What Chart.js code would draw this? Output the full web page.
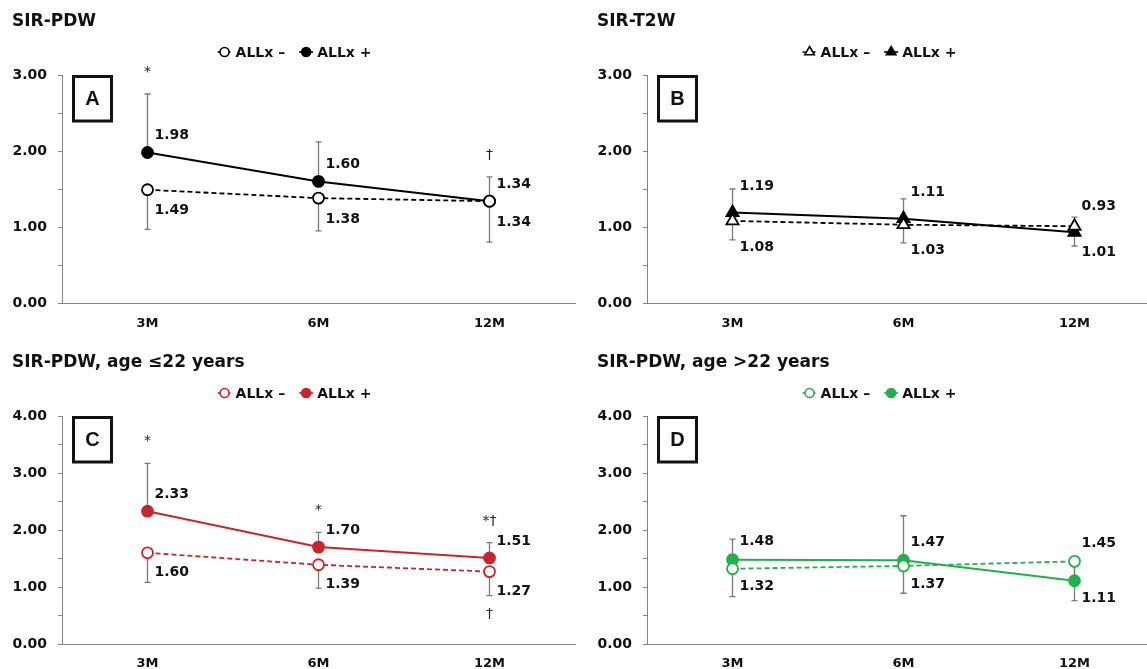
<!DOCTYPE html>
<html>
<head>
<meta charset="utf-8">
<script src="https://cdn.jsdelivr.net/npm/chart.js@4.4.1/dist/chart.umd.min.js"></script>
<style>
  body { margin: 0; background: #fff; width: 1147px; height: 669px; overflow: hidden; position: relative; }
  canvas { position: absolute; }
</style>
</head>
<body>
<canvas id="chartA" width="600" height="335" style="left:0;top:0"></canvas>
<canvas id="chartB" width="600" height="335" style="left:575px;top:0"></canvas>
<canvas id="chartC" width="600" height="334" style="left:0;top:335px"></canvas>
<canvas id="chartD" width="600" height="334" style="left:575px;top:335px"></canvas>
<script>
// 1. Dados
const meses = ['3M', '6M', '12M'];
const rotulos = ['ALLx –', 'ALLx +'];

// A: SIR-PDW
const pdwSem = [1.49, 1.38, 1.34];
const pdwCom = [1.98, 1.60, 1.34];
const pdwSemDP = [0.52, 0.43, 0.54];
const pdwComDP = [0.77, 0.52, 0.32];
const pdwMarcasCima = ['*', '', '†'];
const pdwMarcasBaixo = ['', '', ''];

// B: SIR-T2W
const t2wSem = [1.08, 1.03, 1.01];
const t2wCom = [1.19, 1.11, 0.93];
const t2wSemDP = [0.25, 0.24, 0.26];
const t2wComDP = [0.31, 0.26, 0.20];
const t2wMarcasCima = ['', '', ''];
const t2wMarcasBaixo = ['', '', ''];

// C: SIR-PDW, idade <= 22
const jovemSem = [1.60, 1.39, 1.27];
const jovemCom = [2.33, 1.70, 1.51];
const jovemSemDP = [0.52, 0.41, 0.42];
const jovemComDP = [0.84, 0.26, 0.27];
const jovemMarcasCima = ['*', '*', '*†'];
const jovemMarcasBaixo = ['', '', '†'];

// D: SIR-PDW, idade > 22
const velhoSem = [1.32, 1.37, 1.45];
const velhoCom = [1.48, 1.47, 1.11];
const velhoSemDP = [0.49, 0.48, 0.69];
const velhoComDP = [0.36, 0.78, 0.30];
const velhoMarcasCima = ['', '', ''];
const velhoMarcasBaixo = ['', '', ''];

const ticksA = [0, 3];
const ticksC = [0, 4];

const FONTE = '"DejaVu Sans", Verdana, sans-serif';
const CINZA = '#858585';
const TEXTO = '#111';

// 2. Desenha um marcador (círculo ou triângulo)
function desenharMarcador(ctx, estilo, x, y, r, cheio, cor, lw) {
  ctx.beginPath();
  if (estilo === 'triangle') {
    for (let k = 0; k < 3; k++) {
      const a = k * 2 * Math.PI / 3;
      const px = x + Math.sin(a) * r, py = y - Math.cos(a) * r;
      if (k === 0) ctx.moveTo(px, py); else ctx.lineTo(px, py);
    }
    ctx.closePath();
  } else {
    ctx.arc(x, y, r, 0, Math.PI * 2);
  }
  ctx.fillStyle = cheio ? cor : '#fff';
  ctx.fill();
  ctx.lineWidth = lw;
  ctx.strokeStyle = cor;
  ctx.stroke();
}

// 3. Plugin: barras de erro, rótulos, marcas, título, legenda e letra
const decoracao = {
  id: 'decoracao',
  beforeDatasetsDraw(chart, args, o) {
    const { ctx, scales: { x, y } } = chart;
    const sem = chart.data.datasets[0].data;
    const com = chart.data.datasets[1].data;
    ctx.save();
    ctx.strokeStyle = '#7a7a7a';
    ctx.lineWidth = 1.3;
    for (let i = 0; i < sem.length; i++) {
      const px = x.getPixelForValue(i);
      const barras = [[com[i], com[i] + o.comDP[i]], [sem[i], sem[i] - o.semDP[i]]];
      barras.forEach(([v0, v1]) => {
        const y0 = y.getPixelForValue(v0), y1 = y.getPixelForValue(v1);
        ctx.beginPath();
        ctx.moveTo(px, y0); ctx.lineTo(px, y1);
        ctx.moveTo(px - 3, y1); ctx.lineTo(px + 3, y1);
        ctx.stroke();
      });
    }
    ctx.restore();
  },
  afterDatasetsDraw(chart, args, o) {
    const { ctx, scales: { x, y } } = chart;
    const sem = chart.data.datasets[0].data;
    const com = chart.data.datasets[1].data;
    ctx.save();
    ctx.fillStyle = TEXTO;
    ctx.font = 'bold 14px ' + FONTE;
    ctx.textAlign = 'left';
    ctx.textBaseline = 'middle';
    for (let i = 0; i < sem.length; i++) {
      const px = x.getPixelForValue(i);
      // em D o rótulo de cima é sempre o do ponto mais alto
      let cima = com[i], baixo = sem[i];
      if (o.rotuloPelaAltura && sem[i] > com[i]) { cima = sem[i]; baixo = com[i]; }
      ctx.fillText(cima.toFixed(2), px + 7, y.getPixelForValue(cima) - o.folgaCima);
      ctx.fillText(baixo.toFixed(2), px + 7, y.getPixelForValue(baixo) + o.folgaBaixo);
    }
    ctx.font = '14px ' + FONTE;
    ctx.textAlign = 'center';
    ctx.textBaseline = 'alphabetic';
    ctx.fillStyle = '#222';
    for (let i = 0; i < sem.length; i++) {
      const px = x.getPixelForValue(i);
      const topo = Math.max(com[i] + o.comDP[i], sem[i]);
      const fundo = Math.min(sem[i] - o.semDP[i], com[i]);
      if (o.marcasCima[i]) ctx.fillText(o.marcasCima[i], px, y.getPixelForValue(topo) - 18);
      if (o.marcasBaixo[i]) ctx.fillText(o.marcasBaixo[i], px, y.getPixelForValue(fundo) + 22);
    }
    ctx.restore();
  },
  afterDraw(chart, args, o) {
    const { ctx, chartArea: area } = chart;
    ctx.save();
    // título
    ctx.fillStyle = TEXTO;
    ctx.font = 'bold 17px ' + FONTE;
    ctx.textAlign = 'left';
    ctx.textBaseline = 'middle';
    ctx.fillText(o.titulo, area.left - 50, area.top - 53);

    // legenda
    ctx.font = 'bold 14px ' + FONTE;
    const itens = chart.data.datasets.map((ds, k) => ({
      texto: ds.label, tracejado: k === 0, cheio: k === 1, largura: 18 + ctx.measureText(ds.label).width
    }));
    const total = itens.reduce((s, it) => s + it.largura, 0) + 14;
    let ix = (area.left + area.right) / 2 - 24 - total / 2;
    const ly = area.top - 23;
    itens.forEach(it => {
      ctx.strokeStyle = o.cor;
      ctx.lineWidth = 1.6;
      ctx.setLineDash(it.tracejado ? [3, 2] : []);
      ctx.beginPath(); ctx.moveTo(ix, ly); ctx.lineTo(ix + 14, ly); ctx.stroke();
      ctx.setLineDash([]);
      desenharMarcador(ctx, o.estilo, ix + 7, ly, o.estilo === 'triangle' ? 5.5 : 4.5, it.cheio, o.cor, 1.6);
      ctx.fillStyle = TEXTO;
      ctx.textAlign = 'left';
      ctx.fillText(it.texto, ix + 18, ly + 1);
      ix += it.largura + 14;
    });

    // quadro da letra
    ctx.strokeStyle = '#111';
    ctx.lineWidth = 3;
    ctx.strokeRect(area.left + 11.5, area.top + 1.5, 38, 44.5);
    ctx.fillStyle = '#111';
    ctx.font = 'bold 20px "Liberation Sans", Arial, sans-serif';
    ctx.textAlign = 'center';
    ctx.fillText(o.letra, area.left + 30.5, area.top + 24);
    ctx.restore();
  }
};

// 4. Monta cada painel
function criarPainel(id, cfg) {
  const canvas = document.getElementById(id);
  const fonteEixo = (size) => ({ family: FONTE, size: size, weight: 'bold' });
  return new Chart(canvas, {
    type: 'line',
    data: {
      labels: meses,
      datasets: [
        {
          label: rotulos[0], data: cfg.sem, borderColor: cfg.cor, borderWidth: 1.8, borderDash: [5, 3],
          pointStyle: cfg.estilo, pointRadius: cfg.raio, pointBorderWidth: 1.8,
          pointBackgroundColor: '#fff', pointBorderColor: cfg.cor, tension: 0
        },
        {
          label: rotulos[1], data: cfg.com, borderColor: cfg.cor, borderWidth: 2,
          pointStyle: cfg.estilo, pointRadius: cfg.raio, pointBorderWidth: 1.8,
          pointBackgroundColor: cfg.cor, pointBorderColor: cfg.cor, tension: 0
        }
      ]
    },
    options: {
      responsive: false,
      animation: false,
      devicePixelRatio: 1,
      layout: { padding: { left: 0, right: canvas.width - (cfg.eixoX + 513), top: cfg.topo, bottom: 0 } },
      scales: {
        x: {
          type: 'category', offset: true,
          grid: { display: false, drawTicks: false },
          border: { display: true, color: CINZA, width: 1 },
          ticks: { font: fonteEixo(13), color: TEXTO, padding: cfg.folgaX },
          afterFit(s) { s.height = canvas.height - cfg.fundo; }
        },
        y: {
          min: cfg.limites[0], max: cfg.limites[1],
          ticks: {
            stepSize: 0.5, autoSkip: false, padding: 11, color: TEXTO, font: fonteEixo(14),
            callback: v => (v % 1 === 0 ? v.toFixed(2) : '')
          },
          grid: { drawOnChartArea: false, drawTicks: true, tickLength: 4, color: CINZA },
          border: { color: CINZA, width: 1 },
          afterFit(s) { s.width = cfg.eixoX; }
        }
      },
      plugins: {
        legend: { display: false },
        tooltip: { enabled: false },
        decoracao: {
          titulo: cfg.titulo, letra: cfg.letra, cor: cfg.cor, estilo: cfg.estilo,
          semDP: cfg.semDP, comDP: cfg.comDP, marcasCima: cfg.marcasCima, marcasBaixo: cfg.marcasBaixo,
          folgaCima: cfg.folgaCima, folgaBaixo: cfg.folgaBaixo, rotuloPelaAltura: !!cfg.rotuloPelaAltura
        }
      }
    },
    plugins: [decoracao]
  });
}

criarPainel('chartA', {
  titulo: 'SIR-PDW', letra: 'A', cor: '#000', estilo: 'circle', raio: 5.5,
  sem: pdwSem, com: pdwCom, semDP: pdwSemDP, comDP: pdwComDP,
  marcasCima: pdwMarcasCima, marcasBaixo: pdwMarcasBaixo, limites: ticksA,
  eixoX: 62, topo: 75, fundo: 303, folgaX: 13, folgaCima: 17, folgaBaixo: 21
});
criarPainel('chartB', {
  titulo: 'SIR-T2W', letra: 'B', cor: '#000', estilo: 'triangle', raio: 7,
  sem: t2wSem, com: t2wCom, semDP: t2wSemDP, comDP: t2wComDP,
  marcasCima: t2wMarcasCima, marcasBaixo: t2wMarcasBaixo, limites: ticksA,
  eixoX: 72, topo: 75, fundo: 303, folgaX: 13, folgaCima: 26, folgaBaixo: 26
});
criarPainel('chartC', {
  titulo: 'SIR-PDW, age ≤22 years', letra: 'C', cor: '#c8252c', estilo: 'circle', raio: 5.5,
  sem: jovemSem, com: jovemCom, semDP: jovemSemDP, comDP: jovemComDP,
  marcasCima: jovemMarcasCima, marcasBaixo: jovemMarcasBaixo, limites: ticksC,
  eixoX: 62, topo: 81, fundo: 309, folgaX: 12, folgaCima: 17, folgaBaixo: 20
});
criarPainel('chartD', {
  titulo: 'SIR-PDW, age >22 years', letra: 'D', cor: '#22b04c', estilo: 'circle', raio: 5.5,
  sem: velhoSem, com: velhoCom, semDP: velhoSemDP, comDP: velhoComDP,
  marcasCima: velhoMarcasCima, marcasBaixo: velhoMarcasBaixo, limites: ticksC,
  eixoX: 72, topo: 81, fundo: 309, folgaX: 12, folgaCima: 18, folgaBaixo: 18,
  rotuloPelaAltura: true
});
</script>
</body>
</html>
